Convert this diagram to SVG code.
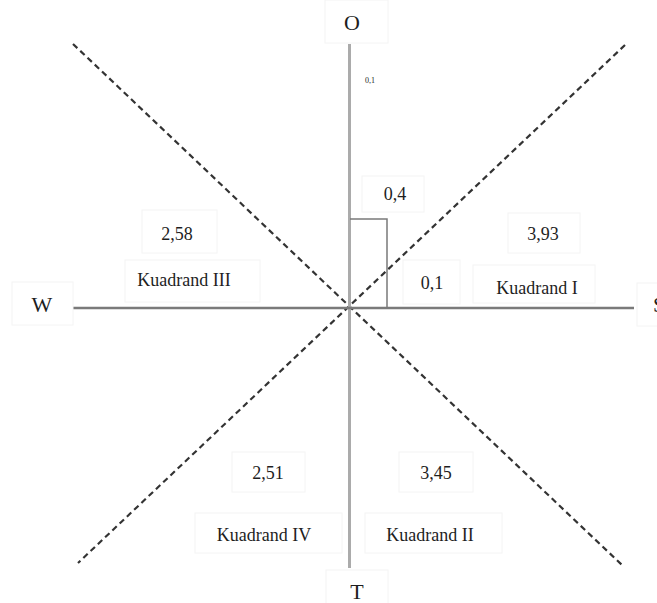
<svg xmlns="http://www.w3.org/2000/svg" width="657" height="603" viewBox="0 0 657 603">
<style>
.box{fill:#ffffff;stroke:#f4f4f4;stroke-width:1}
.t{font-family:"Liberation Serif","Times New Roman",serif;fill:#1e1e1e;text-anchor:middle}
.lbl{font-size:18px}
.dir{font-size:22px}
.dash{stroke:#333333;stroke-width:2.2;stroke-dasharray:6 4;fill:none}
</style>
<rect width="657" height="603" fill="#ffffff"/>
<g id="connectors">
  <line class="dash" x1="73" y1="44" x2="622" y2="565"/>
  <line class="dash" x1="625" y1="45" x2="78" y2="563"/>
  <line x1="349.5" y1="44" x2="349.5" y2="568" stroke="#ababab" stroke-width="3"/>
  <line x1="73" y1="308" x2="634" y2="308" stroke="#7a7a7a" stroke-width="2.5"/>
  <polyline points="350,219 387,219 387,308" fill="none" stroke="#7a7a7a" stroke-width="1.5"/>
</g>
<g id="node-O">
  <rect class="box" x="325" y="0" width="63" height="43"/>
  <text class="t dir" x="352" y="30">O</text>
</g>
<g id="node-W">
  <rect class="box" x="12" y="282" width="61" height="43"/>
  <text class="t dir" x="42" y="312">W</text>
</g>
<g id="node-S">
  <rect class="box" x="637" y="283" width="30" height="43"/>
  <text class="t dir" x="659" y="312">S</text>
</g>
<g id="node-T">
  <rect class="box" x="326" y="570" width="62" height="40"/>
  <text class="t dir" x="357" y="599">T</text>
</g>
<g id="label-01-top">
  <text class="t" x="370" y="83" font-size="8">0,1</text>
</g>
<g id="label-04">
  <rect class="box" x="362" y="176" width="62" height="36"/>
  <text class="t lbl" x="395" y="200">0,4</text>
</g>
<g id="label-01">
  <rect class="box" x="403" y="260" width="57" height="44"/>
  <text class="t lbl" x="432" y="289">0,1</text>
</g>
<g id="label-258">
  <rect class="box" x="142" y="210" width="75" height="43"/>
  <text class="t lbl" x="177" y="240">2,58</text>
</g>
<g id="kuadrand-III">
  <rect class="box" x="125" y="260" width="135" height="42"/>
  <text class="t lbl" x="184" y="286">Kuadrand III</text>
</g>
<g id="label-393">
  <rect class="box" x="508" y="213" width="72" height="40"/>
  <text class="t lbl" x="543" y="240">3,93</text>
</g>
<g id="kuadrand-I">
  <rect class="box" x="473" y="265" width="122" height="38"/>
  <text class="t lbl" x="537" y="294">Kuadrand I</text>
</g>
<g id="label-251">
  <rect class="box" x="232" y="452" width="73" height="40"/>
  <text class="t lbl" x="268" y="479">2,51</text>
</g>
<g id="kuadrand-IV">
  <rect class="box" x="195" y="513" width="147" height="40"/>
  <text class="t lbl" x="264" y="541">Kuadrand IV</text>
</g>
<g id="label-345">
  <rect class="box" x="399" y="452" width="74" height="40"/>
  <text class="t lbl" x="436" y="479">3,45</text>
</g>
<g id="kuadrand-II">
  <rect class="box" x="365" y="513" width="137" height="40"/>
  <text class="t lbl" x="430" y="541">Kuadrand II</text>
</g>
</svg>
